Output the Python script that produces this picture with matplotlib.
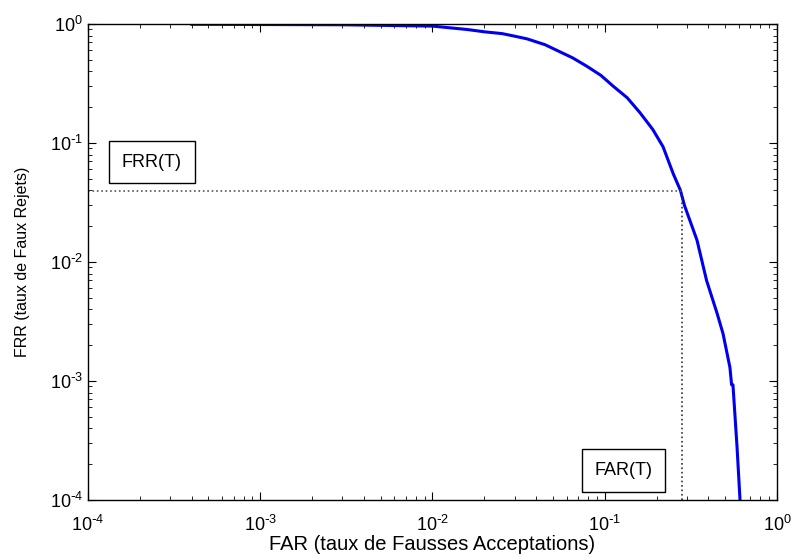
import numpy as np
import matplotlib.pyplot as plt
import matplotlib as mpl
from matplotlib.ticker import FuncFormatter

mpl.rcParams['font.family'] = ['Liberation Sans', 'DejaVu Sans']
mpl.rcParams['axes.unicode_minus'] = False

# courbe FRR = f(FAR)
far = [4e-4, 1e-3, 3e-3, 1e-2, 0.0158, 0.02, 0.0254, 0.03, 0.0354, 0.045,
       0.0528, 0.065, 0.079, 0.095, 0.112, 0.135, 0.160, 0.19, 0.218, 0.250,
       0.275, 0.29, 0.343, 0.39, 0.449, 0.486, 0.533, 0.545, 0.555, 0.586, 0.61]
frr = [0.995, 0.99, 0.985, 0.96, 0.90, 0.86, 0.83, 0.79, 0.75, 0.67,
       0.60, 0.52, 0.44, 0.37, 0.30, 0.24, 0.18, 0.13, 0.093, 0.055,
       0.040, 0.030, 0.0153, 0.0070, 0.0037, 0.0025, 0.0013, 0.00093, 0.00093, 0.00028, 1e-4]

# seuil T
far_t = 0.28
frr_t = 0.0395


def fmt_puissance(v, pos):
    # 10^-n avec un tiret court comme sur l'original
    e = int(round(np.log10(v)))
    if e < 0:
        return r'$\mathdefault{10^{\text{-}%d}}$' % (-e)
    return r'$\mathdefault{10^{%d}}$' % e


fig = plt.figure(figsize=(7.92, 5.57), dpi=100)
ax = fig.add_axes([88/792, 1 - 500/557, 689/792, 476/557])

ax.loglog(far, frr, color='#0000ee', linewidth=2.2)
ax.plot([1e-4, far_t], [frr_t, frr_t], color='#555555', linestyle=':', linewidth=1.2)
ax.plot([far_t, far_t], [1e-4, frr_t], color='#333333', linestyle=':', linewidth=1.2)

ax.set_xlim(1e-4, 1)
ax.set_ylim(1e-4, 1)
ax.xaxis.set_major_formatter(FuncFormatter(fmt_puissance))
ax.yaxis.set_major_formatter(FuncFormatter(fmt_puissance))
ax.tick_params(which='both', direction='in', top=True, right=True, labelsize=13)
ax.tick_params(which='major', length=6)
ax.tick_params(which='minor', length=3)
ax.tick_params(axis='x', which='both', pad=11)
for s in ax.spines.values():
    s.set_linewidth(1.0)

ax.set_xlabel('FAR (taux de Fausses Acceptations)', fontsize=14.5, labelpad=0)
ax.set_ylabel('FRR (taux de Faux Rejets)', fontsize=11.5, labelpad=14)

ax.text(2.35e-4, 0.069, 'FRR(T)', fontsize=13, ha='center', va='center',
        bbox=dict(boxstyle='square,pad=0.7', facecolor='white', edgecolor='black'))
ax.text(0.1285, 1.77e-4, 'FAR(T)', fontsize=13, ha='center', va='center',
        bbox=dict(boxstyle='square,pad=0.7', facecolor='white', edgecolor='black'))

plt.savefig('out.png', dpi=100)
